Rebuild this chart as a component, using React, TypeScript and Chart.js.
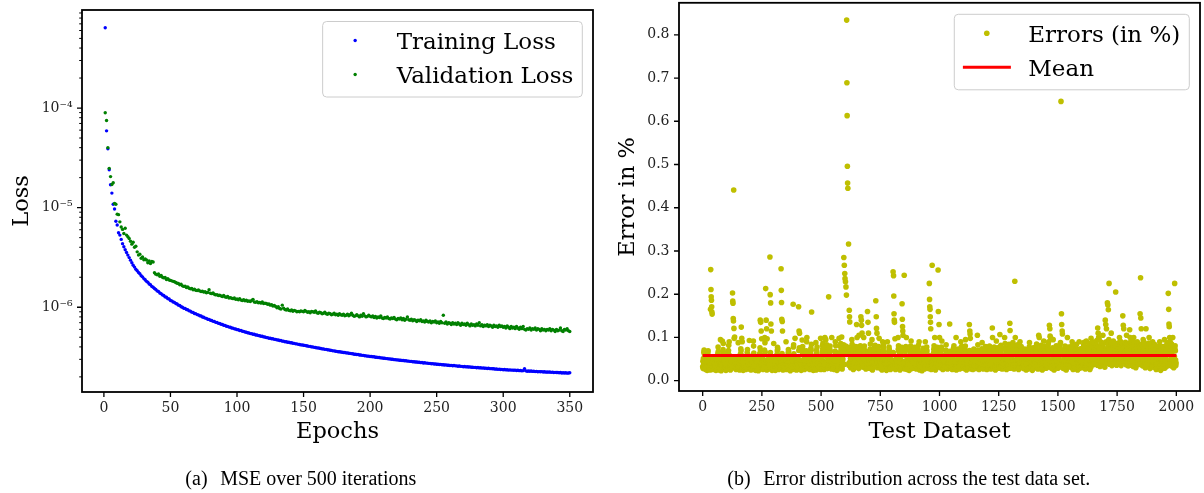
import React, { useEffect, useRef } from 'react';
import { Chart, registerables } from 'chart.js';

Chart.register(...registerables);

const SERIF = '"DejaVu Serif", serif';
const TIMES = '"Liberation Serif", "Times New Roman", serif';
const TICK_COLOR = '#222222';

// ---------------- (a) MSE loss per epoch (epochs 1..350) ----------------
const trainLoss: number[] = [
  6.4e-4, 5.9e-5, 3.9e-5, 2.4e-5, 1.7e-5, 1.4e-5, 1.08e-5, 9.7e-6, 7.3e-6, 6.7e-6,
  5.6e-6, 5.3e-6, 4.8e-6, 4.35e-6, 4.05e-6, 3.78e-6, 3.55e-6, 3.34e-6, 3.15e-6, 2.97e-6,
  2.8e-6, 2.64e-6, 2.53e-6, 2.41e-6, 2.33e-6, 2.23e-6, 2.17e-6, 2.07e-6, 2.02e-6, 1.94e-6,
  1.89e-6, 1.82e-6, 1.78e-6, 1.71e-6, 1.68e-6, 1.62e-6, 1.59e-6, 1.54e-6, 1.51e-6, 1.46e-6,
  1.44e-6, 1.39e-6, 1.37e-6, 1.33e-6, 1.31e-6, 1.27e-6, 1.26e-6, 1.22e-6, 1.21e-6, 1.17e-6,
  1.16e-6, 1.13e-6, 1.12e-6, 1.09e-6, 1.08e-6, 1.05e-6, 1.04e-6, 1.01e-6, 1.0e-6, 9.78e-7,
  9.74e-7, 9.49e-7, 9.44e-7, 9.2e-7, 9.15e-7, 8.93e-7, 8.88e-7, 8.67e-7, 8.63e-7, 8.44e-7,
  8.38e-7, 8.21e-7, 8.16e-7, 7.98e-7, 7.95e-7, 7.78e-7, 7.74e-7, 7.59e-7, 7.55e-7, 7.4e-7,
  7.36e-7, 7.22e-7, 7.2e-7, 7.05e-7, 7.02e-7, 6.89e-7, 6.87e-7, 6.74e-7, 6.71e-7, 6.6e-7,
  6.57e-7, 6.45e-7, 6.43e-7, 6.32e-7, 6.3e-7, 6.19e-7, 6.17e-7, 6.07e-7, 6.05e-7, 5.96e-7,
  5.94e-7, 5.85e-7, 5.84e-7, 5.75e-7, 5.73e-7, 5.64e-7, 5.62e-7, 5.54e-7, 5.52e-7, 5.44e-7,
  5.43e-7, 5.35e-7, 5.35e-7, 5.27e-7, 5.26e-7, 5.19e-7, 5.18e-7, 5.11e-7, 5.11e-7, 5.04e-7,
  5.03e-7, 4.96e-7, 4.95e-7, 4.89e-7, 4.89e-7, 4.82e-7, 4.82e-7, 4.76e-7, 4.76e-7, 4.7e-7,
  4.69e-7, 4.63e-7, 4.63e-7, 4.57e-7, 4.57e-7, 4.51e-7, 4.51e-7, 4.46e-7, 4.45e-7, 4.4e-7,
  4.4e-7, 4.35e-7, 4.34e-7, 4.29e-7, 4.29e-7, 4.24e-7, 4.23e-7, 4.19e-7, 4.19e-7, 4.15e-7,
  4.14e-7, 4.1e-7, 4.09e-7, 4.05e-7, 4.05e-7, 4.0e-7, 4.0e-7, 3.96e-7, 3.95e-7, 3.91e-7,
  3.91e-7, 3.87e-7, 3.86e-7, 3.82e-7, 3.82e-7, 3.78e-7, 3.78e-7, 3.74e-7, 3.73e-7, 3.7e-7,
  3.69e-7, 3.65e-7, 3.65e-7, 3.62e-7, 3.61e-7, 3.58e-7, 3.58e-7, 3.55e-7, 3.54e-7, 3.51e-7,
  3.51e-7, 3.48e-7, 3.48e-7, 3.45e-7, 3.44e-7, 3.42e-7, 3.41e-7, 3.38e-7, 3.38e-7, 3.35e-7,
  3.35e-7, 3.32e-7, 3.32e-7, 3.29e-7, 3.29e-7, 3.26e-7, 3.25e-7, 3.23e-7, 3.23e-7, 3.2e-7,
  3.2e-7, 3.18e-7, 3.18e-7, 3.15e-7, 3.15e-7, 3.13e-7, 3.13e-7, 3.1e-7, 3.1e-7, 3.08e-7,
  3.08e-7, 3.05e-7, 3.05e-7, 3.03e-7, 3.03e-7, 3.01e-7, 3.01e-7, 2.98e-7, 2.98e-7, 2.96e-7,
  2.96e-7, 2.94e-7, 2.94e-7, 2.92e-7, 2.92e-7, 2.9e-7, 2.9e-7, 2.88e-7, 2.88e-7, 2.86e-7,
  2.86e-7, 2.84e-7, 2.84e-7, 2.82e-7, 2.82e-7, 2.8e-7, 2.8e-7, 2.78e-7, 2.79e-7, 2.76e-7,
  2.77e-7, 2.75e-7, 2.75e-7, 2.73e-7, 2.73e-7, 2.71e-7, 2.72e-7, 2.69e-7, 2.7e-7, 2.68e-7,
  2.68e-7, 2.66e-7, 2.67e-7, 2.65e-7, 2.65e-7, 2.63e-7, 2.64e-7, 2.62e-7, 2.62e-7, 2.6e-7,
  2.61e-7, 2.59e-7, 2.6e-7, 2.58e-7, 2.58e-7, 2.56e-7, 2.57e-7, 2.55e-7, 2.55e-7, 2.53e-7,
  2.54e-7, 2.52e-7, 2.53e-7, 2.51e-7, 2.52e-7, 2.5e-7, 2.5e-7, 2.49e-7, 2.49e-7, 2.47e-7,
  2.48e-7, 2.46e-7, 2.47e-7, 2.45e-7, 2.46e-7, 2.44e-7, 2.45e-7, 2.43e-7, 2.44e-7, 2.42e-7,
  2.42e-7, 2.41e-7, 2.41e-7, 2.39e-7, 2.4e-7, 2.38e-7, 2.39e-7, 2.37e-7, 2.38e-7, 2.36e-7,
  2.37e-7, 2.35e-7, 2.36e-7, 2.34e-7, 2.35e-7, 2.34e-7, 2.34e-7, 2.33e-7, 2.34e-7, 2.32e-7,
  2.33e-7, 2.31e-7, 2.32e-7, 2.3e-7, 2.31e-7, 2.42e-7, 2.3e-7, 2.28e-7, 2.29e-7, 2.28e-7,
  2.29e-7, 2.27e-7, 2.28e-7, 2.26e-7, 2.27e-7, 2.25e-7, 2.26e-7, 2.25e-7, 2.26e-7, 2.24e-7,
  2.25e-7, 2.23e-7, 2.24e-7, 2.23e-7, 2.24e-7, 2.22e-7, 2.23e-7, 2.21e-7, 2.22e-7, 2.21e-7,
  2.21e-7, 2.2e-7, 2.21e-7, 2.19e-7, 2.2e-7, 2.19e-7, 2.2e-7, 2.18e-7, 2.19e-7, 2.2e-7,
];

const valLoss: number[] = [
  8.97e-5, 7.5e-5, 4.0e-5, 2.48e-5, 2.05e-5, 1.71e-5, 1.78e-5, 1.1e-5, 1.08e-5, 8.6e-6,
  8.5e-6, 7.2e-6, 6.4e-6, 6.05e-6, 5.5e-6, 6.2e-6, 5.3e-6, 5.1e-6, 4.9e-6, 4.6e-6,
  4.3e-6, 4.5e-6, 4.0e-6, 4.1e-6, 3.6e-6, 3.34e-6, 3.4e-6, 3.1e-6, 3.2e-6, 3.0e-6,
  3.05e-6, 2.98e-6, 2.8e-6, 2.92e-6, 2.75e-6, 2.88e-6, 2.85e-6, 2.22e-6, 2.15e-6, 2.12e-6,
  2.16e-6, 2.05e-6, 2.08e-6, 2.0e-6, 1.97e-6, 1.99e-6, 1.9e-6, 1.93e-6, 1.88e-6, 1.86e-6,
  1.84e-6, 1.82e-6, 1.8e-6, 1.77e-6, 1.74e-6, 1.73e-6, 1.68e-6, 1.7e-6, 1.64e-6, 1.62e-6,
  1.63e-6, 1.58e-6, 1.6e-6, 1.55e-6, 1.53e-6, 1.54e-6, 1.5e-6, 1.52e-6, 1.48e-6, 1.47e-6,
  1.49e-6, 1.46e-6, 1.44e-6, 1.45e-6, 1.42e-6, 1.43e-6, 1.4e-6, 1.41e-6, 1.5e-6, 1.38e-6,
  1.37e-6, 1.39e-6, 1.35e-6, 1.33e-6, 1.34e-6, 1.31e-6, 1.32e-6, 1.3e-6, 1.28e-6, 1.31e-6,
  1.27e-6, 1.26e-6, 1.28e-6, 1.24e-6, 1.25e-6, 1.23e-6, 1.22e-6, 1.24e-6, 1.2e-6, 1.21e-6,
  1.19e-6, 1.22e-6, 1.18e-6, 1.17e-6, 1.19e-6, 1.16e-6, 1.18e-6, 1.15e-6, 1.16e-6, 1.14e-6,
  1.17e-6, 1.2e-6, 1.13e-6, 1.12e-6, 1.14e-6, 1.11e-6, 1.12e-6, 1.1e-6, 1.13e-6, 1.09e-6,
  1.1e-6, 1.09e-6, 1.07e-6, 1.08e-6, 1.05e-6, 1.06e-6, 1.03e-6, 1.04e-6, 1.02e-6, 9.9e-7,
  1.01e-6, 9.7e-7, 9.6e-7, 1.05e-6, 9.8e-7, 9.5e-7, 9.4e-7, 9.6e-7, 9.3e-7, 9.2e-7,
  9.4e-7, 9.1e-7, 9.3e-7, 9.2e-7, 9.0e-7, 9.1e-7, 9.0e-7, 9.2e-7, 9.1e-7, 9.0e-7,
  9.3e-7, 9.1e-7, 8.9e-7, 9.0e-7, 8.8e-7, 9.1e-7, 9.0e-7, 8.9e-7, 9.2e-7, 8.8e-7,
  8.7e-7, 8.9e-7, 8.8e-7, 8.6e-7, 8.7e-7, 8.9e-7, 8.6e-7, 8.5e-7, 8.7e-7, 8.6e-7,
  8.4e-7, 8.5e-7, 8.7e-7, 8.4e-7, 8.5e-7, 8.3e-7, 8.6e-7, 8.4e-7, 8.3e-7, 8.5e-7,
  8.2e-7, 8.3e-7, 8.5e-7, 8.2e-7, 8.4e-7, 8.7e-7, 8.3e-7, 8.1e-7, 8.2e-7, 8.4e-7,
  8.2e-7, 8.0e-7, 8.3e-7, 8.1e-7, 8.6e-7, 8.2e-7, 8.0e-7, 8.1e-7, 8.3e-7, 8.1e-7,
  8.0e-7, 8.2e-7, 7.9e-7, 8.1e-7, 7.8e-7, 8.0e-7, 7.9e-7, 8.2e-7, 7.8e-7, 7.7e-7,
  7.9e-7, 7.8e-7, 8.0e-7, 7.7e-7, 7.6e-7, 7.8e-7, 7.7e-7, 7.9e-7, 7.6e-7, 7.5e-7,
  7.7e-7, 7.6e-7, 7.8e-7, 7.5e-7, 7.7e-7, 7.4e-7, 7.6e-7, 8.0e-7, 7.5e-7, 7.4e-7,
  7.6e-7, 7.3e-7, 7.5e-7, 7.4e-7, 7.2e-7, 7.4e-7, 7.3e-7, 7.5e-7, 7.2e-7, 7.3e-7,
  7.1e-7, 7.4e-7, 7.2e-7, 7.1e-7, 7.3e-7, 7.0e-7, 7.2e-7, 7.1e-7, 7.3e-7, 7.0e-7,
  7.1e-7, 6.9e-7, 7.2e-7, 7.0e-7, 8.3e-7, 6.9e-7, 7.1e-7, 6.8e-7, 7.0e-7, 6.9e-7,
  6.7e-7, 7.0e-7, 6.8e-7, 6.9e-7, 6.7e-7, 7.0e-7, 6.8e-7, 6.6e-7, 6.9e-7, 6.7e-7,
  6.8e-7, 6.6e-7, 6.9e-7, 6.7e-7, 6.5e-7, 6.8e-7, 6.6e-7, 6.7e-7, 6.5e-7, 6.8e-7,
  6.6e-7, 7.0e-7, 6.5e-7, 6.7e-7, 6.4e-7, 6.6e-7, 6.5e-7, 6.7e-7, 6.4e-7, 6.6e-7,
  6.5e-7, 6.3e-7, 6.6e-7, 6.4e-7, 6.5e-7, 6.3e-7, 6.6e-7, 6.4e-7, 6.5e-7, 6.3e-7,
  6.4e-7, 6.2e-7, 6.5e-7, 6.3e-7, 6.1e-7, 6.4e-7, 6.2e-7, 6.3e-7, 6.1e-7, 6.4e-7,
  6.2e-7, 6.0e-7, 6.3e-7, 6.1e-7, 6.4e-7, 6.0e-7, 5.9e-7, 6.1e-7, 6.0e-7, 6.2e-7,
  5.9e-7, 6.1e-7, 6.0e-7, 6.2e-7, 5.9e-7, 6.1e-7, 6.0e-7, 5.8e-7, 6.1e-7, 5.9e-7,
  6.0e-7, 5.8e-7, 6.0e-7, 5.9e-7, 6.1e-7, 5.8e-7, 6.0e-7, 5.9e-7, 5.7e-7, 6.0e-7,
  5.8e-7, 5.9e-7, 6.2e-7, 5.8e-7, 5.7e-7, 6.0e-7, 5.9e-7, 6.1e-7, 5.8e-7, 5.7e-7,
];

const epochTicks = [0, 50, 100, 150, 200, 250, 300, 350];
const lossMajorTicks = [1e-6, 1e-5, 1e-4];
const lossMinorTicks = [
  2e-7, 3e-7, 4e-7, 5e-7, 6e-7, 7e-7, 8e-7, 9e-7,
  2e-6, 3e-6, 4e-6, 5e-6, 6e-6, 7e-6, 8e-6, 9e-6,
  2e-5, 3e-5, 4e-5, 5e-5, 6e-5, 7e-5, 8e-5, 9e-5,
  2e-4, 3e-4, 4e-4, 5e-4, 6e-4, 7e-4, 8e-4, 9e-4,
];

// ---------------- (b) error (in %) per test sample, samples 0..1999 ----------------
const errorBand: number[] = [
  .032,.045,.028,.051,.038,.066,.071,.062,.041,.029,.047,.035,.053,.026,.039,.044,.031,.050,.036,.024,.042,.058,.064,.069,.033,.046,.027,.040,.052,.030,.037,.048,.025,.043,.034,.055,.029,.041,.060,.067,.073,.039,.031,.047,.036,.026,.050,.038,.044,.030,
  .041,.027,.035,.049,.031,.044,.024,.038,.052,.033,.046,.029,.040,.057,.063,.078,.068,.036,.043,.025,.034,.048,.030,.039,.054,.028,.045,.037,.023,.042,.050,.032,.047,.026,.036,.061,.072,.086,.066,.044,.031,.039,.053,.027,.035,.046,.030,.041,.024,.037,
  .048,.033,.026,.043,.055,.038,.030,.045,.064,.070,.082,.060,.036,.028,.041,.034,.050,.025,.039,.046,.031,.037,.053,.029,.044,.035,.023,.040,.049,.032,.058,.067,.075,.071,.043,.027,.038,.034,.047,.030,.042,.026,.051,.036,.033,.045,.028,.039,.056,.031,
  .037,.044,.029,.052,.034,.041,.025,.047,.036,.031,.062,.074,.069,.083,.058,.040,.027,.046,.033,.038,.050,.024,.043,.030,.035,.048,.028,.041,.054,.032,.039,.045,.026,.036,.049,.031,.042,.057,.065,.072,.061,.038,.029,.044,.034,.051,.027,.040,.046,.033,
  .030,.042,.036,.048,.025,.039,.053,.031,.044,.028,.037,.047,.033,.059,.068,.080,.064,.041,.026,.035,.050,.029,.043,.038,.024,.046,.032,.040,.055,.027,.036,.044,.031,.049,.034,.023,.041,.052,.037,.029,.045,.063,.076,.085,.070,.058,.039,.030,.043,.035,
  .047,.028,.040,.034,.051,.026,.043,.037,.032,.046,.060,.071,.079,.088,.066,.038,.029,.045,.033,.041,.054,.025,.036,.048,.030,.042,.035,.027,.050,.039,.044,.031,.037,.056,.062,.070,.065,.043,.028,.034,.047,.032,.040,.024,.038,.052,.029,.041,.036,.045,
  .033,.049,.027,.042,.038,.031,.045,.024,.036,.053,.030,.040,.046,.028,.061,.069,.077,.073,.059,.035,.043,.026,.039,.048,.032,.044,.037,.029,.052,.034,.041,.057,.066,.081,.074,.063,.047,.030,.038,.025,.043,.035,.050,.028,.039,.046,.031,.036,.054,.040,
  .029,.043,.037,.051,.026,.040,.034,.047,.031,.038,.055,.064,.072,.068,.045,.032,.027,.044,.036,.049,.023,.041,.035,.030,.046,.039,.053,.028,.042,.033,.037,.058,.067,.078,.083,.062,.040,.031,.045,.026,.038,.050,.034,.029,.043,.036,.048,.025,.041,.032,
  .044,.036,.052,.030,.039,.061,.070,.085,.076,.059,.041,.027,.035,.048,.032,.043,.024,.038,.046,.031,.054,.066,.079,.072,.044,.029,.037,.042,.033,.050,.026,.040,.035,.047,.030,.038,.056,.064,.069,.090,.073,.046,.032,.041,.028,.036,.049,.034,.039,.045,
  .031,.047,.038,.026,.043,.053,.062,.075,.070,.084,.067,.040,.029,.035,.044,.032,.050,.024,.039,.046,.033,.041,.028,.037,.055,.030,.042,.036,.048,.025,.061,.071,.064,.078,.058,.043,.034,.039,.027,.045,.031,.052,.036,.029,.041,.037,.049,.033,.044,.026,
  .040,.035,.048,.029,.058,.067,.082,.074,.087,.063,.045,.031,.038,.026,.043,.036,.051,.030,.041,.034,.047,.056,.069,.077,.083,.066,.039,.028,.044,.032,.037,.049,.025,.042,.035,.046,.060,.072,.080,.068,.053,.038,.030,.045,.027,.039,.050,.033,.041,.036,
  .029,.044,.037,.052,.031,.040,.026,.047,.059,.068,.075,.066,.081,.062,.042,.033,.038,.024,.045,.035,.049,.030,.041,.036,.054,.028,.043,.034,.039,.047,.057,.065,.079,.086,.071,.063,.044,.032,.037,.027,.046,.035,.050,.061,.070,.083,.092,.076,.049,.038,
  .055,.063,.072,.068,.080,.074,.061,.049,.038,.044,.031,.057,.069,.083,.077,.065,.046,.036,.041,.028,.050,.034,.043,.039,.052,.030,.045,.037,.062,.073,.066,.084,.071,.048,.033,.040,.026,.044,.036,.051,.029,.042,.035,.047,.058,.067,.079,.064,.040,.032,
  .043,.037,.060,.070,.078,.066,.052,.034,.041,.028,.046,.039,.032,.049,.057,.068,.081,.075,.087,.062,.044,.030,.038,.024,.045,.036,.053,.031,.041,.034,.048,.063,.072,.080,.069,.058,.042,.033,.039,.027,.046,.035,.050,.031,.044,.061,.074,.067,.079,.055,
  .041,.034,.047,.029,.038,.056,.066,.073,.085,.070,.052,.036,.043,.027,.040,.033,.048,.025,.042,.037,.051,.031,.045,.039,.058,.069,.077,.064,.082,.060,.040,.032,.046,.028,.038,.044,.035,.049,.030,.041,.055,.063,.071,.079,.067,.046,.034,.039,.043,.031,
  .036,.045,.028,.040,.050,.033,.043,.025,.038,.047,.031,.059,.070,.083,.076,.065,.042,.035,.029,.044,.037,.052,.030,.041,.034,.048,.024,.039,.046,.032,.043,.036,.053,.028,.040,.061,.068,.078,.072,.057,.045,.033,.038,.026,.042,.035,.049,.031,.044,.037,
  .040,.034,.047,.029,.057,.065,.075,.070,.084,.066,.049,.037,.031,.043,.026,.039,.045,.033,.051,.036,.041,.028,.046,.035,.054,.062,.073,.081,.068,.059,.044,.032,.038,.025,.042,.036,.048,.030,.040,.058,.067,.077,.085,.072,.063,.047,.035,.041,.029,.043,
  .038,.050,.032,.045,.027,.040,.058,.069,.079,.074,.066,.043,.034,.039,.026,.047,.036,.052,.030,.042,.035,.048,.024,.041,.037,.055,.063,.072,.080,.067,.046,.031,.038,.044,.028,.040,.051,.033,.045,.036,.029,.043,.059,.070,.065,.077,.053,.039,.032,.046,
  .035,.041,.027,.049,.033,.044,.038,.056,.064,.073,.068,.082,.061,.042,.031,.037,.025,.045,.039,.050,.029,.043,.034,.047,.036,.041,.023,.048,.032,.057,.066,.075,.071,.060,.044,.035,.040,.027,.046,.033,.052,.030,.042,.037,.054,.065,.078,.069,.045,.034,
  .039,.031,.046,.028,.043,.036,.058,.067,.076,.084,.070,.062,.048,.033,.040,.026,.044,.037,.050,.031,.041,.035,.047,.029,.055,.064,.073,.081,.066,.053,.042,.034,.038,.025,.045,.036,.049,.032,.040,.059,.068,.077,.072,.063,.046,.037,.033,.043,.029,.040,
  .044,.035,.051,.030,.041,.037,.060,.069,.078,.072,.057,.043,.032,.039,.026,.046,.034,.049,.029,.042,.036,.053,.028,.040,.045,.033,.061,.071,.083,.067,.052,.038,.030,.044,.027,.041,.035,.048,.031,.043,.037,.055,.064,.074,.068,.045,.034,.039,.028,.046,
  .033,.042,.037,.050,.026,.044,.035,.058,.066,.075,.070,.081,.063,.041,.030,.038,.047,.029,.043,.034,.052,.025,.040,.036,.048,.031,.045,.056,.065,.073,.062,.049,.037,.032,.041,.027,.044,.035,.051,.029,.039,.057,.068,.079,.071,.060,.043,.034,.040,.031,
  .045,.036,.049,.028,.040,.034,.055,.063,.072,.080,.066,.047,.033,.039,.025,.043,.037,.051,.030,.042,.035,.046,.029,.041,.058,.067,.076,.070,.085,.061,.044,.032,.038,.027,.045,.036,.050,.031,.042,.037,.048,.026,.040,.056,.064,.073,.068,.046,.035,.041,
  .030,.043,.037,.052,.028,.041,.034,.047,.059,.068,.077,.071,.083,.064,.046,.033,.039,.026,.044,.036,.050,.029,.042,.035,.048,.031,.040,.057,.066,.074,.069,.053,.038,.032,.045,.027,.041,.036,.049,.030,.043,.037,.055,.063,.072,.079,.060,.044,.034,.039,
  .026,.045,.036,.051,.031,.042,.038,.048,.057,.067,.074,.080,.069,.062,.044,.033,.040,.027,.046,.035,.052,.029,.041,.037,.047,.030,.043,.055,.064,.073,.068,.078,.058,.042,.034,.039,.025,.045,.036,.050,.032,.041,.038,.054,.065,.076,.070,.060,.043,.031,
  .040,.034,.047,.029,.043,.036,.056,.065,.073,.082,.067,.049,.035,.041,.027,.044,.037,.051,.030,.042,.033,.046,.028,.039,.057,.066,.075,.086,.072,.061,.045,.032,.038,.026,.043,.036,.049,.031,.041,.035,.053,.062,.070,.078,.084,.069,.047,.034,.040,.029,
  .044,.036,.050,.030,.041,.055,.063,.074,.081,.070,.088,.064,.046,.035,.040,.027,.045,.037,.052,.031,.042,.034,.048,.029,.040,.058,.067,.076,.071,.083,.060,.043,.033,.038,.026,.044,.036,.050,.030,.041,.035,.057,.066,.075,.069,.079,.062,.045,.034,.039,
  .031,.043,.037,.051,.028,.040,.035,.047,.056,.064,.073,.067,.054,.041,.033,.038,.025,.044,.036,.049,.030,.042,.034,.046,.027,.039,.055,.063,.071,.078,.066,.048,.035,.040,.029,.045,.037,.052,.031,.043,.036,.047,.024,.041,.058,.068,.076,.062,.044,.034,
  .039,.046,.030,.042,.037,.054,.062,.071,.079,.066,.085,.061,.045,.033,.040,.027,.044,.036,.050,.031,.042,.035,.048,.028,.041,.057,.066,.074,.069,.082,.058,.043,.034,.038,.025,.046,.036,.051,.030,.042,.037,.053,.064,.072,.080,.068,.049,.035,.041,.029,
  .044,.035,.049,.030,.041,.036,.056,.065,.074,.083,.070,.090,.066,.047,.034,.039,.026,.045,.037,.051,.031,.043,.035,.048,.028,.040,.058,.067,.076,.071,.063,.046,.033,.038,.025,.044,.036,.050,.031,.042,.055,.064,.072,.081,.069,.052,.038,.032,.043,.036,
  .029,.045,.037,.052,.031,.040,.057,.066,.077,.084,.071,.088,.063,.047,.034,.039,.026,.044,.036,.050,.030,.042,.035,.048,.028,.041,.056,.065,.073,.068,.080,.059,.043,.033,.038,.025,.045,.036,.051,.031,.042,.037,.054,.063,.071,.078,.066,.046,.034,.040,
  .036,.048,.031,.043,.037,.055,.064,.072,.066,.081,.058,.044,.033,.039,.026,.045,.036,.051,.030,.042,.035,.047,.028,.040,.057,.066,.075,.069,.084,.062,.046,.034,.039,.025,.044,.037,.050,.031,.043,.036,.048,.029,.041,.056,.065,.074,.068,.053,.038,.032,
  .045,.036,.052,.030,.042,.037,.058,.067,.076,.083,.071,.089,.064,.048,.034,.040,.027,.046,.037,.053,.031,.043,.035,.049,.029,.041,.059,.068,.078,.072,.086,.063,.045,.033,.039,.026,.047,.036,.052,.031,.043,.055,.066,.075,.082,.070,.090,.061,.044,.037,
  .050,.062,.071,.080,.068,.087,.059,.046,.039,.054,.065,.076,.084,.072,.093,.063,.048,.036,.042,.058,.069,.078,.088,.074,.061,.045,.038,.051,.033,.047,.060,.070,.081,.075,.089,.066,.052,.040,.046,.057,.067,.079,.086,.073,.064,.049,.037,.043,.031,.055,
  .063,.072,.081,.069,.090,.077,.058,.047,.040,.053,.064,.075,.086,.070,.079,.095,.061,.049,.038,.044,.056,.068,.083,.074,.088,.062,.051,.042,.035,.048,.059,.071,.080,.067,.092,.073,.057,.045,.039,.052,.066,.077,.085,.070,.063,.048,.041,.055,.036,.050,
  .060,.071,.082,.067,.087,.074,.056,.044,.038,.052,.063,.076,.084,.069,.091,.062,.048,.035,.041,.057,.068,.079,.073,.086,.061,.047,.039,.054,.032,.045,.058,.070,.081,.066,.078,.089,.064,.050,.037,.043,.055,.067,.077,.085,.072,.060,.046,.034,.049,.040,
  .058,.069,.080,.074,.088,.065,.051,.042,.036,.049,.061,.072,.083,.077,.094,.066,.053,.040,.033,.046,.057,.068,.079,.071,.086,.063,.048,.038,.044,.030,.052,.064,.075,.082,.070,.090,.060,.045,.037,.050,.062,.073,.084,.068,.078,.057,.043,.035,.047,.039,
  .054,.066,.077,.071,.085,.063,.049,.040,.034,.047,.059,.070,.081,.074,.089,.061,.046,.036,.042,.030,.053,.065,.076,.069,.083,.058,.044,.038,.051,.033,.056,.067,.078,.072,.087,.062,.048,.039,.045,.028,.050,.063,.074,.080,.068,.057,.043,.035,.046,.037,
  .048,.036,.053,.031,.043,.038,.058,.067,.076,.070,.083,.061,.045,.034,.040,.026,.046,.037,.052,.030,.042,.035,.049,.028,.041,.057,.066,.075,.069,.081,.059,.044,.033,.038,.024,.045,.036,.051,.031,.043,.037,.055,.064,.073,.079,.067,.047,.034,.039,.029,
  .044,.036,.051,.030,.042,.037,.057,.066,.075,.082,.070,.088,.063,.046,.034,.039,.025,.045,.036,.050,.031,.042,.035,.048,.027,.040,.058,.067,.077,.071,.085,.062,.045,.033,.038,.022,.044,.037,.052,.030,.043,.036,.056,.065,.074,.081,.069,.048,.035,.041,
];

// isolated larger errors: sample index and error in %
const spikeIndex: number[] = [
  33, 34, 35, 36, 37, 38, 39, 40, 75, 83, 112, 126, 127, 128, 129, 130, 131, 132, 133, 135,
  150, 163, 165, 167, 197, 214, 243, 245, 247, 249, 262, 266, 268, 270, 272, 284, 285, 287, 288, 290,
  300, 331, 332, 333, 334, 336, 337, 352, 382, 390, 405, 407, 409, 420, 440, 460, 478, 498, 516, 520,
  532, 545, 560, 576, 587, 596, 598, 600, 601, 603, 605, 607, 608, 609, 610, 611, 612, 613, 616, 619,
  620, 621, 630, 650, 652, 660, 668, 670, 671, 673, 680, 696, 698, 700, 715, 731, 733, 734, 736, 745,
  760, 780, 804, 806, 807, 808, 809, 810, 812, 825, 842, 843, 844, 845, 846, 851, 860, 880, 914, 940,
  957, 958, 959, 960, 961, 962, 963, 969, 980, 994, 995, 998, 1000, 1010, 1043, 1070, 1090, 1110, 1126, 1128,
  1129, 1130, 1160, 1180, 1223, 1224, 1240, 1255, 1275, 1297, 1298, 1318, 1320, 1340, 1380, 1419, 1421, 1440, 1464, 1466,
  1467, 1469, 1480, 1513, 1515, 1516, 1518, 1519, 1540, 1560, 1590, 1620, 1640, 1668, 1670, 1672, 1674, 1690, 1700, 1702,
  1705, 1709, 1711, 1713, 1716, 1725, 1744, 1760, 1774, 1776, 1778, 1790, 1803, 1805, 1820, 1847, 1849, 1850, 1852, 1860,
  1872, 1885, 1900, 1905, 1930, 1950, 1966, 1968, 1969, 1970, 1972, 1974, 1985, 1993,
];
const spikeValue: number[] = [
  .165, .257, .211, .194, .186, .171, .159, .154, .095, .092, .090, .203, .184, .179, .144, .138, .441, .121, .098, .101,
  .088, .124, .098, .090, .093, .092, .140, .135, .115, .097, .100, .213, .140, .120, .097, .286, .199, .180, .131, .115,
  .086, .259, .209, .181, .142, .137, .115, .090, .177, .098, .171, .115, .110, .094, .100, .159, .088, .098, .100, .095,
  .194, .100, .090, .098, .101, .285, .267, .248, .236, .229, .217, .198, .834, .689, .613, .496, .457, .445, .316, .163,
  .148, .136, .095, .130, .100, .105, .148, .140, .128, .110, .100, .160, .135, .110, .095, .185, .148, .121, .110, .098,
  .090, .090, .252, .243, .196, .155, .140, .135, .097, .100, .178, .142, .125, .115, .105, .244, .100, .092, .090, .090,
  .225, .188, .171, .165, .148, .135, .120, .267, .100, .256, .160, .130, .100, .092, .131, .100, .090, .095, .130, .115,
  .108, .098, .105, .088, .122, .100, .092, .107, .100, .133, .116, .230, .100, .090, .088, .105, .100, .092, .128, .120,
  .103, .100, .095, .646, .155, .130, .115, .108, .100, .090, .090, .092, .098, .122, .110, .100, .095, .105, .140, .130,
  .120, .180, .175, .164, .225, .110, .205, .100, .150, .128, .120, .105, .118, .100, .100, .155, .238, .145, .120, .095,
  .120, .100, .090, .085, .090, .095, .202, .165, .131, .125, .100, .090, .100, .225,
];

const meanError = 0.0585;
const meanSpan = [0, 2000];
const sampleTicks = [0, 250, 500, 750, 1000, 1250, 1500, 1750, 2000];
const errorTicks = [0, 0.1, 0.2, 0.3, 0.4, 0.5, 0.6, 0.7, 0.8];

// ---------------- helpers ----------------
const SUP: Record<string, string> = {
  '-': '\u207B', '0': '\u2070', '1': '\u00B9', '2': '\u00B2', '3': '\u00B3', '4': '\u2074',
  '5': '\u2075', '6': '\u2076', '7': '\u2077', '8': '\u2078', '9': '\u2079',
};
function powerLabel(v: number): string {
  const e = Math.round(Math.log10(v));
  return '10' + String(e).split('').map((c) => SUP[c]).join('');
}

type LegendEntry = { label: string; color: string; kind: 'dot' | 'line'; radius?: number };
type Decor = {
  id: string;
  xTitle: string;
  yTitle: string;
  yTitleX: number;
  xMajor: number[];
  yMajor: number[];
  yMinor: number[];
  legend: LegendEntry[];
  captionTag: string;
  captionText: string;
  captionCenter: number;
};

function decorPlugin(d: Decor) {
  return {
    id: d.id,
    afterDraw(chart: any) {
      const ctx: CanvasRenderingContext2D = chart.ctx;
      const a = chart.chartArea;
      const xs = chart.scales.x;
      const ys = chart.scales.y;
      ctx.save();
      // tick marks
      ctx.strokeStyle = '#000';
      ctx.lineWidth = 1.3;
      ctx.beginPath();
      d.xMajor.forEach((v) => {
        const px = xs.getPixelForValue(v);
        ctx.moveTo(px, a.bottom);
        ctx.lineTo(px, a.bottom + 5);
      });
      d.yMajor.forEach((v) => {
        const py = ys.getPixelForValue(v);
        ctx.moveTo(a.left, py);
        ctx.lineTo(a.left - 5, py);
      });
      ctx.stroke();
      ctx.lineWidth = 1;
      ctx.beginPath();
      d.yMinor.forEach((v) => {
        const py = ys.getPixelForValue(v);
        ctx.moveTo(a.left, py);
        ctx.lineTo(a.left - 2.8, py);
      });
      ctx.stroke();
      // spines
      ctx.lineWidth = 1.8;
      ctx.strokeRect(a.left, a.top, a.right - a.left, a.bottom - a.top);
      // axis titles
      ctx.fillStyle = '#000';
      ctx.font = `22.5px ${SERIF}`;
      ctx.textAlign = 'center';
      ctx.textBaseline = 'alphabetic';
      ctx.fillText(d.xTitle, (a.left + a.right) / 2, 438);
      ctx.save();
      ctx.translate(d.yTitleX, (a.top + a.bottom) / 2);
      ctx.rotate(-Math.PI / 2);
      ctx.fillText(d.yTitle, 0, 0);
      ctx.restore();
      // legend
      ctx.font = `23px ${SERIF}`;
      let maxW = 0;
      d.legend.forEach((e) => { maxW = Math.max(maxW, ctx.measureText(e.label).width); });
      const boxW = 74 + maxW + 9;
      const boxH = 75.5;
      const boxR = a.right - 10.7;
      const boxL = boxR - boxW;
      const boxT = a.top + 11.5;
      ctx.beginPath();
      (ctx as any).roundRect(boxL, boxT, boxW, boxH, 4);
      ctx.fillStyle = 'rgba(255,255,255,0.8)';
      ctx.fill();
      ctx.strokeStyle = '#cccccc';
      ctx.lineWidth = 1;
      ctx.stroke();
      d.legend.forEach((e, i) => {
        const base = boxT + 27.5 + i * 34;
        const my = base - 8.5;
        if (e.kind === 'dot') {
          ctx.beginPath();
          ctx.arc(boxL + 32.5, my, e.radius || 2, 0, Math.PI * 2);
          ctx.fillStyle = e.color;
          ctx.fill();
        } else {
          ctx.beginPath();
          ctx.moveTo(boxL + 8.6, my);
          ctx.lineTo(boxL + 56.6, my);
          ctx.strokeStyle = e.color;
          ctx.lineWidth = 3;
          ctx.stroke();
        }
        ctx.fillStyle = '#000';
        ctx.textAlign = 'left';
        ctx.fillText(e.label, boxL + 74, base);
      });
      // caption
      ctx.font = `20px ${TIMES}`;
      ctx.fillStyle = '#000';
      ctx.textAlign = 'left';
      const tagW = ctx.measureText(d.captionTag).width;
      const txtW = ctx.measureText(d.captionText).width;
      const gap = 12.6;
      const start = d.captionCenter - (tagW + gap + txtW) / 2;
      ctx.fillText(d.captionTag, start, 485);
      ctx.fillText(d.captionText, start + tagW + gap, 485);
      ctx.restore();
    },
  };
}

function tickFont() {
  return { family: SERIF, size: 14 };
}

function LossChart() {
  const ref = useRef<HTMLCanvasElement>(null);
  useEffect(() => {
    if (!ref.current) return;
    const chart = new Chart(ref.current, {
      type: 'scatter',
      data: {
        datasets: [
          {
            label: 'Training Loss',
            data: trainLoss.map((y, i) => ({ x: i + 1, y })),
            pointBackgroundColor: '#0000ff',
            pointBorderWidth: 0,
            pointRadius: 1.7,
            pointHoverRadius: 1.7,
            order: 2,
          },
          {
            label: 'Validation Loss',
            data: valLoss.map((y, i) => ({ x: i + 1, y })),
            pointBackgroundColor: '#008000',
            pointBorderWidth: 0,
            pointRadius: 1.7,
            pointHoverRadius: 1.7,
            order: 1,
          },
        ],
      },
      options: {
        animation: false,
        responsive: false,
        events: [],
        layout: { padding: { left: 0, top: 10, right: 7, bottom: 0 } },
        plugins: { legend: { display: false }, tooltip: { enabled: false } },
        scales: {
          x: {
            type: 'linear',
            min: -16.45,
            max: 367.45,
            afterBuildTicks: (s: any) => { s.ticks = epochTicks.map((v) => ({ value: v })); },
            afterFit: (s: any) => { s.height = 101; s.paddingLeft = 0; s.paddingRight = 0; s.paddingTop = 0; s.paddingBottom = 0; },
            grid: { display: false, drawTicks: false, tickLength: 0 },
            border: { display: false },
            ticks: { autoSkip: false, maxRotation: 0, padding: 7.5, color: TICK_COLOR, font: tickFont(), callback: (v: any) => String(v) },
          },
          y: {
            type: 'logarithmic',
            min: 1.41e-7,
            max: 9.64e-4,
            afterBuildTicks: (s: any) => { s.ticks = lossMajorTicks.map((v) => ({ value: v, major: true })); },
            afterFit: (s: any) => { s.width = 82; s.paddingLeft = 0; s.paddingRight = 0; s.paddingTop = 0; s.paddingBottom = 0; },
            grid: { display: false, drawTicks: false, tickLength: 0 },
            border: { display: false },
            ticks: { autoSkip: false, padding: 9.5, color: TICK_COLOR, font: tickFont(), callback: (v: any) => powerLabel(Number(v)) },
          },
        },
      } as any,
      plugins: [
        decorPlugin({
          id: 'decorLoss',
          xTitle: 'Epochs',
          yTitle: 'Loss',
          yTitleX: 28,
          xMajor: epochTicks,
          yMajor: lossMajorTicks,
          yMinor: lossMinorTicks,
          legend: [
            { label: 'Training Loss', color: '#0000ff', kind: 'dot', radius: 1.7 },
            { label: 'Validation Loss', color: '#008000', kind: 'dot', radius: 1.7 },
          ],
          captionTag: '(a)',
          captionText: 'MSE over 500 iterations',
          captionCenter: 300.8,
        }),
      ],
    });
    return () => chart.destroy();
  }, []);
  return (
    <canvas
      ref={ref}
      width={600}
      height={493}
      style={{ position: 'absolute', left: 0, top: 0, width: 600, height: 493 }}
    />
  );
}

function ErrorChart() {
  const ref = useRef<HTMLCanvasElement>(null);
  useEffect(() => {
    if (!ref.current) return;
    const errorValues = errorBand.slice();
    spikeIndex.forEach((idx, k) => { errorValues[idx] = spikeValue[k]; });
    const chart = new Chart(ref.current, {
      type: 'scatter',
      data: {
        datasets: [
          {
            label: 'Errors (in %)',
            data: errorValues.map((y, i) => ({ x: i, y })),
            pointBackgroundColor: '#bfbf00',
            pointBorderWidth: 0,
            pointRadius: 2.8,
            pointHoverRadius: 2.8,
            order: 2,
          },
          {
            label: 'Mean',
            data: meanSpan.map((x) => ({ x, y: meanError })),
            showLine: true,
            borderColor: '#ff0000',
            borderWidth: 3,
            pointRadius: 0,
            pointHoverRadius: 0,
            order: 1,
          },
        ],
      },
      options: {
        animation: false,
        responsive: false,
        events: [],
        layout: { padding: { left: 0, top: 2, right: 4, bottom: 0 } },
        plugins: { legend: { display: false }, tooltip: { enabled: false } },
        scales: {
          x: {
            type: 'linear',
            min: -100,
            max: 2100,
            afterBuildTicks: (s: any) => { s.ticks = sampleTicks.map((v) => ({ value: v })); },
            afterFit: (s: any) => { s.height = 102; s.paddingLeft = 0; s.paddingRight = 0; s.paddingTop = 0; s.paddingBottom = 0; },
            grid: { display: false, drawTicks: false, tickLength: 0 },
            border: { display: false },
            ticks: { autoSkip: false, maxRotation: 0, padding: 7.5, color: TICK_COLOR, font: tickFont(), callback: (v: any) => String(v) },
          },
          y: {
            type: 'linear',
            min: -0.0238,
            max: 0.874,
            afterBuildTicks: (s: any) => { s.ticks = errorTicks.map((v) => ({ value: v })); },
            afterFit: (s: any) => { s.width = 79; s.paddingLeft = 0; s.paddingRight = 0; s.paddingTop = 0; s.paddingBottom = 0; },
            grid: { display: false, drawTicks: false, tickLength: 0 },
            border: { display: false },
            ticks: { autoSkip: false, padding: 9.5, color: TICK_COLOR, font: tickFont(), callback: (v: any) => Number(v).toFixed(1) },
          },
        },
      } as any,
      plugins: [
        decorPlugin({
          id: 'decorError',
          xTitle: 'Test Dataset',
          yTitle: 'Error in %',
          yTitleX: 33.5,
          xMajor: sampleTicks,
          yMajor: errorTicks,
          yMinor: [],
          legend: [
            { label: 'Errors (in %)', color: '#bfbf00', kind: 'dot', radius: 2.8 },
            { label: 'Mean', color: '#ff0000', kind: 'line' },
          ],
          captionTag: '(b)',
          captionText: 'Error distribution across the test data set.',
          captionCenter: 308.8,
        }),
      ],
    });
    return () => chart.destroy();
  }, []);
  return (
    <canvas
      ref={ref}
      width={604}
      height={493}
      style={{ position: 'absolute', left: 600, top: 0, width: 604, height: 493 }}
    />
  );
}

export default function App() {
  return (
    <div style={{ position: 'absolute', left: 0, top: 0, width: 1204, height: 493, background: '#ffffff', overflow: 'hidden' }}>
      <LossChart />
      <ErrorChart />
    </div>
  );
}
